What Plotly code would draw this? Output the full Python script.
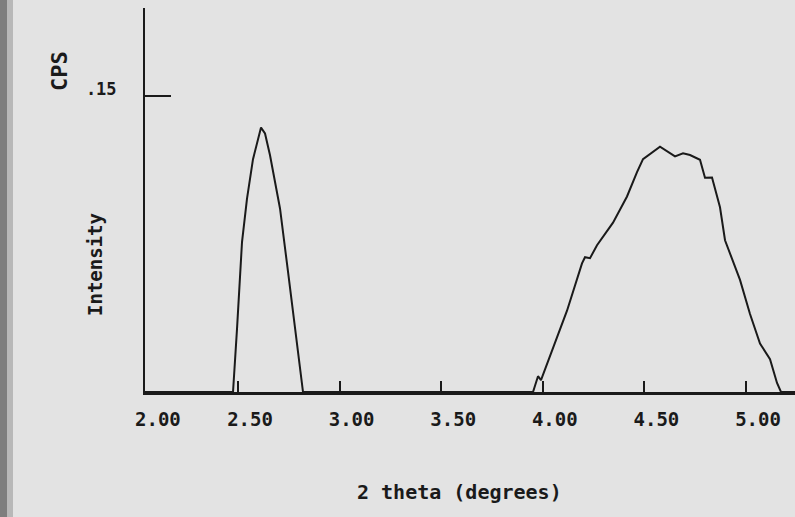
import plotly.graph_objects as go

# Scan data
two_theta = [2.0423, 2.4754, 2.4951, 2.5197, 2.5443, 2.5738, 2.6132, 2.6329, 2.6575, 2.7067, 2.7461,
             2.7805, 2.8199,
             3.9518, 3.9764, 3.9911, 4.0502, 4.1191, 4.1929, 4.2077, 4.2323, 4.2667, 4.3455, 4.4144,
             4.4636, 4.4931, 4.5768, 4.6112, 4.6506, 4.6900, 4.7244, 4.7736, 4.7982, 4.8327, 4.8720,
             4.8967, 4.9705, 5.0197, 5.0689, 5.1181, 5.1526, 5.1722, 5.2411]
intensity = [0.0, 0.0, 0.032, 0.076, 0.098, 0.118, 0.134, 0.131, 0.120, 0.093, 0.061, 0.033, 0.0,
             0.0, 0.008, 0.006, 0.0223, 0.0412, 0.0652, 0.0683, 0.0678, 0.0744, 0.0858, 0.0991,
             0.1114, 0.118, 0.1243, 0.1219, 0.1194, 0.121, 0.1201, 0.1177, 0.1086, 0.1087, 0.0936,
             0.0769, 0.0568, 0.0395, 0.0246, 0.0166, 0.0046, 0.0, 0.0]

x_range = [2.0423, 5.2411]
x_tickvals = [2.5, 3.0, 3.5, 4.0, 4.5, 5.0]
x_ticktext = ["2.50", "3.00", "3.50", "4.00", "4.50", "5.00"]
x_origin_label = "2.00"
y_tickvals = [0.15]
y_ticktext = [".15"]

font_family = "DejaVu Sans Mono"
ink = "#1a1a1a"

fig = go.Figure()
fig.add_trace(go.Scatter(x=two_theta, y=intensity, mode="lines",
                         line=dict(color=ink, width=2), showlegend=False,
                         hoverinfo="skip"))

plot_w = 795 - 145 - 0
plot_h = 517 - 8 - 125

tick_font = dict(size=19, family=font_family, weight="bold", color=ink)

fig.update_layout(
    width=795, height=517,
    margin=dict(l=145, r=0, t=8, b=125),
    paper_bgcolor="#e3e3e3", plot_bgcolor="#e3e3e3",
    font=dict(family=font_family, color=ink),
    xaxis=dict(range=x_range, tickvals=x_tickvals, ticktext=x_ticktext,
               ticks="inside", ticklen=11, tickwidth=2, tickcolor=ink,
               showline=True, linecolor=ink, linewidth=3, showgrid=False, zeroline=False,
               tickfont=tick_font, ticklabelshift=12, ticklabelstandoff=8, fixedrange=True),
    yaxis=dict(range=[0, 0.1946], tickvals=y_tickvals, ticktext=y_ticktext,
               ticks="inside", ticklen=26, tickwidth=2, tickcolor=ink,
               showline=True, linecolor=ink, linewidth=2, showgrid=False, zeroline=False,
               tickfont=dict(size=17, family=font_family, weight="bold", color=ink),
               ticklabelstandoff=23, ticklabelshift=-7, fixedrange=True),
    annotations=[
        dict(text=x_origin_label, xref="paper", yref="paper", x=0, y=0,
             xshift=13, yshift=-14, showarrow=False, font=tick_font,
             xanchor="center", yanchor="top"),
        dict(text="2 theta (degrees)", xref="paper", yref="paper",
             x=(459 - 145) / plot_w, y=-(492 - 392) / plot_h, showarrow=False,
             font=dict(size=20, family=font_family, weight="bold", color=ink),
             xanchor="center", yanchor="middle"),
        dict(text="Intensity", xref="paper", yref="paper",
             x=-(145 - 95) / plot_w, y=(392 - 265) / plot_h, showarrow=False, textangle=-90,
             font=dict(size=19, family=font_family, weight="bold", color=ink),
             xanchor="center", yanchor="middle"),
        dict(text="CPS", xref="paper", yref="paper",
             x=-(145 - 59) / plot_w, y=(392 - 71) / plot_h, showarrow=False, textangle=-90,
             font=dict(size=22, family=font_family, weight="bold", color=ink),
             xanchor="center", yanchor="middle"),
    ],
    shapes=[
        dict(type="rect", xref="paper", yref="paper", x0=-145 / plot_w, x1=-138 / plot_w,
             y0=-125 / plot_h, y1=(392 + 8) / plot_h + 0.01, fillcolor="#7e7e7e",
             line=dict(width=0), layer="below"),
        dict(type="rect", xref="paper", yref="paper", x0=-138 / plot_w, x1=-132 / plot_w,
             y0=-125 / plot_h, y1=(392 + 8) / plot_h + 0.01, fillcolor="#b8b8b8",
             line=dict(width=0), layer="below"),
    ],
)

fig.write_html("out.html")
